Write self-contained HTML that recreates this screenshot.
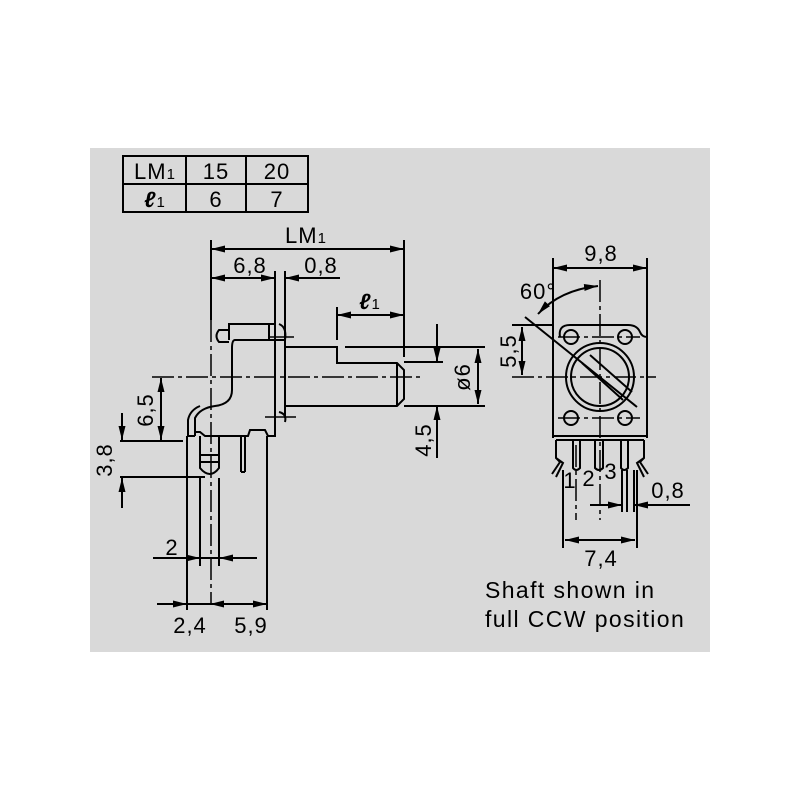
<!DOCTYPE html>
<html><head><meta charset="utf-8"><style>
html,body{margin:0;padding:0;background:#fff;width:800px;height:800px;overflow:hidden}
svg{display:block}
text{font-family:"Liberation Sans",sans-serif;fill:#000}
</style></head><body>
<svg width="800" height="800" viewBox="0 0 800 800" xmlns="http://www.w3.org/2000/svg">
<defs>
<marker id="a" viewBox="0 0 14 7" refX="14" refY="3.5" markerWidth="14" markerHeight="7" orient="auto-start-reverse" markerUnits="userSpaceOnUse"><path d="M0,0 L14,3.5 L0,7z" fill="#000"/></marker>
</defs>
<rect x="90" y="148" width="620" height="504" fill="#d9d9d9"/>
<g stroke="#000" stroke-width="2" fill="none">
<rect x="123" y="156" width="185" height="56"/>
<line x1="123" y1="184" x2="308" y2="184"/>
<line x1="186" y1="156" x2="186" y2="212"/>
<line x1="246" y1="156" x2="246" y2="212"/>
</g>
<g font-size="22" text-anchor="middle" letter-spacing="1">
<text x="155" y="179">LM<tspan font-size="15">1</tspan></text>
<text x="216" y="179">15</text><text x="277" y="179">20</text>
<text x="155" y="207" font-style="italic" font-weight="bold">ℓ<tspan font-size="15" font-style="normal" font-weight="normal">1</tspan></text>
<text x="216" y="207">6</text><text x="277" y="207">7</text>
</g>

<g stroke="#000" stroke-width="2" fill="none">
<line x1="211" y1="249" x2="404" y2="249" marker-start="url(#a)" marker-end="url(#a)"/>
<line x1="211" y1="240" x2="211" y2="320"/>
<line x1="404" y1="240" x2="404" y2="357"/>
<line x1="211" y1="278" x2="275" y2="278" marker-start="url(#a)" marker-end="url(#a)"/>
<line x1="340" y1="278" x2="285" y2="278" marker-end="url(#a)"/>
<line x1="275" y1="271" x2="275" y2="325"/>
<line x1="285" y1="271" x2="285" y2="340"/>
<line x1="337" y1="315" x2="404" y2="315" marker-start="url(#a)" marker-end="url(#a)"/>
<line x1="337" y1="307" x2="337" y2="340"/>
<path d="M285,347 H337 V363 H397 L404,370 V399 L397,406 H285"/>
<line x1="397" y1="363" x2="397" y2="406"/>
<line x1="345" y1="347" x2="485" y2="347"/>
<line x1="404" y1="406" x2="485" y2="406"/>
<line x1="404" y1="362" x2="443" y2="362"/>
<line x1="478" y1="349" x2="478" y2="404" marker-start="url(#a)" marker-end="url(#a)"/>
<line x1="437" y1="324" x2="437" y2="362" marker-end="url(#a)"/>
<line x1="437" y1="458" x2="437" y2="406" marker-end="url(#a)"/>
<path d="M229,340 V324 H275 V340 M285,340 V418 M275,340 V436 H268 L265,430 H250 L248,436 H205 L200,432 H195 V436 M195,436 L188,436"/>
<path d="M235,340 H285 M235,340 Q232,340 232,348 V390 Q232,404 215,406 Q200,408 195,418 L195,436"/>
<path d="M188,436 V420 Q190,410 200,406"/>
<path d="M229,330 H219 Q214,336 219,342 H229"/>
<line x1="269" y1="324" x2="269" y2="340"/>
<path d="M279,324 Q287,327 285,340"/>
<path d="M279,412 Q287,414 285,422"/>
<line x1="268" y1="337" x2="294" y2="337" stroke-width="1.5"/>
<line x1="265" y1="417" x2="296" y2="417" stroke-width="1.5"/>
<path d="M200,436 V468 Q210,480 219,468 V436"/>
<line x1="200" y1="455" x2="219" y2="455"/><line x1="200" y1="462" x2="219" y2="462"/>
<line x1="241" y1="436" x2="241" y2="472"/><line x1="245" y1="436" x2="245" y2="472"/>
<line x1="241" y1="472" x2="245" y2="472"/>
<line x1="187" y1="436" x2="187" y2="610"/>
<line x1="200" y1="478" x2="200" y2="566"/>
<line x1="219" y1="478" x2="219" y2="566"/>
<line x1="267" y1="436" x2="267" y2="610"/>
<line x1="122" y1="413" x2="122" y2="440" marker-end="url(#a)"/>
<line x1="122" y1="508" x2="122" y2="478" marker-end="url(#a)"/>
<line x1="120" y1="441" x2="183" y2="441"/>
<line x1="120" y1="477" x2="205" y2="477"/>
<line x1="161" y1="378" x2="161" y2="440" marker-start="url(#a)" marker-end="url(#a)"/>
<line x1="153" y1="558" x2="200" y2="558" marker-end="url(#a)"/>
<line x1="257" y1="558" x2="219" y2="558" marker-end="url(#a)"/>
<line x1="200" y1="558" x2="219" y2="558"/>
<line x1="157" y1="604" x2="187" y2="604" marker-end="url(#a)"/>
<line x1="187" y1="604" x2="267" y2="604"/>
<line x1="232" y1="604" x2="210" y2="604" marker-end="url(#a)"/>
<line x1="240" y1="604" x2="267" y2="604" marker-end="url(#a)"/>
</g>
<g stroke="#000" stroke-width="1.5" fill="none" stroke-dasharray="22,4,4,4">
<line x1="152" y1="377" x2="423" y2="377"/>
<line x1="211" y1="320" x2="211" y2="604"/>
</g>
<g font-size="22" text-anchor="middle" letter-spacing="1">
<text x="306" y="243">LM<tspan font-size="15">1</tspan></text>
<text x="250" y="273">6,8</text>
<text x="321" y="273">0,8</text>
<text x="370" y="309" font-style="italic" font-weight="bold">ℓ<tspan font-size="15" font-style="normal" font-weight="normal">1</tspan></text>
<text x="172" y="555">2</text>
<text x="190" y="633">2,4</text>
<text x="251" y="633">5,9</text>
<text transform="translate(153,410) rotate(-90)">6,5</text>
<text transform="translate(112,460) rotate(-90)">3,8</text>
<text transform="translate(470,377) rotate(-90)">ø6</text>
<text transform="translate(431,440) rotate(-90)">4,5</text>
</g>

<g stroke="#000" stroke-width="2" fill="none">
<line x1="553" y1="268" x2="647" y2="268" marker-start="url(#a)" marker-end="url(#a)"/>
<line x1="553" y1="258" x2="553" y2="438"/>
<line x1="647" y1="258" x2="647" y2="438"/>
<path d="M560,337 Q558,325 570,325 H628 Q637,325 640,332 Q642,337 647,337"/>
<line x1="512" y1="325" x2="553" y2="325"/>
<line x1="522" y1="327" x2="522" y2="375" marker-start="url(#a)" marker-end="url(#a)"/>
<circle cx="571" cy="337" r="7"/><circle cx="625" cy="337" r="7"/>
<circle cx="571" cy="418" r="7"/><circle cx="625" cy="418" r="7"/>
<circle cx="600" cy="377" r="34"/><circle cx="600" cy="377" r="29"/>
<line x1="525" y1="317" x2="637" y2="407"/>
<line x1="590" y1="355" x2="632" y2="392"/>
<line x1="582" y1="363" x2="623" y2="400"/>
<path d="M598,286 Q560,290 538,314" marker-start="url(#a)" marker-end="url(#a)"/>
<line x1="553" y1="436" x2="647" y2="436"/>
<line x1="556" y1="440" x2="644" y2="440"/>
<path d="M556,440 V458 L560,462 L552,474 M556,458 L563,463 L556,477"/>
<path d="M644,440 V458 L640,462 L648,474 M644,458 L637,463 L644,477"/>
<path d="M573,440 V468 Q576,472 580,468 V440"/>
<path d="M595,440 V468 Q599,472 603,468 V440"/>
<path d="M621,440 V468 Q624,472 628,468 V440"/>
<line x1="563" y1="470" x2="563" y2="548"/>
<line x1="637" y1="470" x2="637" y2="548"/>
<line x1="622" y1="470" x2="622" y2="512"/>
<line x1="627" y1="470" x2="627" y2="512"/>
<line x1="634" y1="470" x2="634" y2="512"/>
<line x1="565" y1="540" x2="635" y2="540" marker-start="url(#a)" marker-end="url(#a)"/>
<line x1="590" y1="505" x2="622" y2="505" marker-end="url(#a)"/>
<line x1="690" y1="505" x2="634" y2="505" marker-end="url(#a)"/>
</g>
<g stroke="#000" stroke-width="1.5" fill="none" stroke-dasharray="22,4,4,4">
<line x1="600" y1="280" x2="600" y2="520"/>
<line x1="512" y1="377" x2="656" y2="377"/>
<line x1="576" y1="445" x2="576" y2="520"/>
<line x1="558" y1="337" x2="640" y2="337"/>
<line x1="558" y1="418" x2="640" y2="418"/>
</g>
<g font-size="22" text-anchor="middle" letter-spacing="1">
<text x="601" y="261">9,8</text>
<text x="538" y="299">60°</text>
<text transform="translate(516,351) rotate(-90)">5,5</text>
<text x="570" y="488">1</text>
<text x="589" y="486">2</text>
<text x="611" y="479">3</text>
<text x="668" y="498">0,8</text>
<text x="601" y="566">7,4</text>
</g>
<g font-size="23" letter-spacing="1.4">
<text x="485" y="598">Shaft shown in</text>
<text x="485" y="627">full CCW position</text>
</g>
</svg>
</body></html>
